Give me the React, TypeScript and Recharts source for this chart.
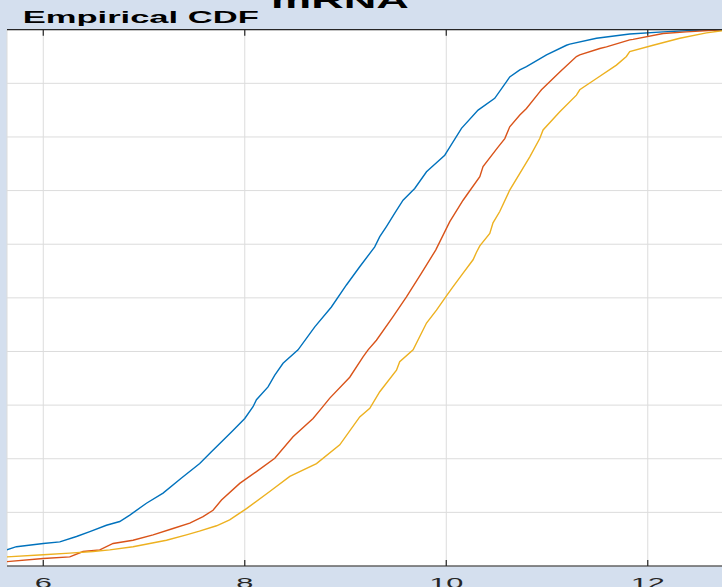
import { LineChart, Line, XAxis, YAxis, CartesianGrid } from "recharts";

// ECDF curves (x value, cumulative probability)
const BLUE_X = [5.635, 5.734, 6.0, 6.164, 6.33, 6.462, 6.627, 6.759, 6.859, 7.024, 7.189, 7.372, 7.553, 7.669, 7.868, 8.0, 8.082, 8.116, 8.231, 8.298, 8.38, 8.529, 8.695, 8.86, 9.009, 9.141, 9.29, 9.34, 9.406, 9.489, 9.571, 9.655, 9.687, 9.804, 9.82, 9.985, 10.018, 10.151, 10.316, 10.481, 10.598, 10.63, 10.73, 10.796, 10.995, 11.193, 11.226, 11.491, 11.821, 12.152, 12.483, 12.6, 13];
const BLUE_Y = [0.03, 0.036, 0.042, 0.045, 0.055, 0.064, 0.076, 0.083, 0.095, 0.117, 0.136, 0.164, 0.191, 0.213, 0.25, 0.275, 0.297, 0.31, 0.334, 0.356, 0.378, 0.403, 0.446, 0.483, 0.524, 0.558, 0.595, 0.614, 0.633, 0.658, 0.682, 0.698, 0.704, 0.735, 0.738, 0.766, 0.776, 0.816, 0.85, 0.872, 0.903, 0.912, 0.925, 0.931, 0.953, 0.971, 0.973, 0.984, 0.992, 0.996, 0.999, 1, 1];

const ORANGE_X = [5.635, 6.0, 6.263, 6.395, 6.561, 6.693, 6.891, 7.09, 7.288, 7.454, 7.586, 7.685, 7.769, 7.95, 8.116, 8.298, 8.479, 8.678, 8.761, 8.844, 9.042, 9.174, 9.224, 9.307, 9.472, 9.605, 9.754, 9.895, 10.035, 10.167, 10.216, 10.333, 10.365, 10.51, 10.581, 10.63, 10.73, 10.796, 10.928, 10.945, 11.127, 11.292, 11.325, 11.524, 11.59, 11.821, 11.854, 12.152, 12.384, 12.648, 13];
const ORANGE_Y = [0.008, 0.014, 0.017, 0.027, 0.03, 0.042, 0.048, 0.058, 0.07, 0.08, 0.092, 0.104, 0.123, 0.154, 0.176, 0.201, 0.241, 0.275, 0.294, 0.313, 0.352, 0.39, 0.403, 0.421, 0.465, 0.502, 0.546, 0.589, 0.642, 0.682, 0.695, 0.726, 0.745, 0.78, 0.797, 0.819, 0.841, 0.853, 0.884, 0.888, 0.921, 0.95, 0.953, 0.965, 0.968, 0.981, 0.982, 0.993, 0.996, 0.999, 1];

const YELLOW_X = [5.635, 6.0, 6.263, 6.494, 6.66, 6.891, 7.057, 7.223, 7.421, 7.55, 7.72, 7.85, 7.92, 8.017, 8.248, 8.447, 8.712, 8.943, 9.141, 9.241, 9.34, 9.506, 9.538, 9.671, 9.737, 9.804, 9.903, 9.995, 10.068, 10.167, 10.266, 10.3, 10.333, 10.432, 10.464, 10.531, 10.63, 10.829, 10.928, 10.961, 11.127, 11.292, 11.325, 11.491, 11.689, 11.788, 11.821, 12.053, 12.318, 12.583, 12.734, 13];
const YELLOW_Y = [0.017, 0.021, 0.024, 0.027, 0.03, 0.036, 0.042, 0.048, 0.058, 0.065, 0.075, 0.086, 0.095, 0.107, 0.139, 0.167, 0.191, 0.226, 0.278, 0.294, 0.325, 0.365, 0.381, 0.403, 0.428, 0.453, 0.477, 0.502, 0.521, 0.546, 0.571, 0.585, 0.597, 0.62, 0.64, 0.661, 0.701, 0.763, 0.797, 0.813, 0.847, 0.878, 0.888, 0.909, 0.934, 0.95, 0.959, 0.971, 0.984, 0.994, 0.998, 1];

const X_TICKS = [6, 8, 10, 12];
const Y_TICKS = [0, 0.1, 0.2, 0.3, 0.4, 0.5, 0.6, 0.7, 0.8, 0.9, 1];
const X_DOMAIN: [number, number] = [5.64, 13];

const zip = (xs: number[], ys: number[]) => xs.map((x, i) => ({ x, y: ys[i] }));
const blue = zip(BLUE_X, BLUE_Y);
const orange = zip(ORANGE_X, ORANGE_Y);
const yellow = zip(YELLOW_X, YELLOW_Y);

const FONT = "'Liberation Sans', Arial, Helvetica, sans-serif";
const SX = 2.05; // text in the source looks stretched sideways
const AXIS = "#262626";

const BottomTick = ({ x, y, payload }: any) => (
  <g>
    <line x1={x} x2={x} y1={y - 6} y2={y} stroke={AXIS} strokeWidth={1.2} />
    <text transform={`translate(${x},${y + 22}) scale(${SX},1)`} textAnchor="middle"
      fontSize={15} fontFamily={FONT} fill={AXIS}>{payload.value}</text>
  </g>
);

const TopTick = ({ x, y }: any) => (
  <line x1={x} x2={x} y1={y} y2={y + 6} stroke={AXIS} strokeWidth={1.2} />
);

export default function App() {
  return (
    <div style={{ position: "absolute", left: 0, top: 0, width: 722, height: 587, overflow: "hidden", background: "#d4dfee" }}>
      <LineChart width={800} height={620} margin={{ top: 28.7, right: 51.5, bottom: 53, left: 7 }}>
        <CartesianGrid xAxisId="bottom" stroke="#dcdcdc" fill="#ffffff" />
        <XAxis xAxisId="bottom" type="number" dataKey="x" domain={X_DOMAIN} ticks={X_TICKS} allowDataOverflow
          height={1} tickSize={0} tickMargin={0} tickLine={false} axisLine={{ stroke: AXIS, strokeWidth: 1.2 }} tick={<BottomTick />} />
        <XAxis xAxisId="top" orientation="top" type="number" dataKey="x" domain={X_DOMAIN} ticks={X_TICKS} allowDataOverflow
          height={1} tickSize={0} tickMargin={0} tickLine={false} axisLine={{ stroke: AXIS, strokeWidth: 1.2 }} tick={<TopTick />} />
        <YAxis type="number" domain={[0, 1]} ticks={Y_TICKS} hide width={0} />
        <Line xAxisId="bottom" data={blue} dataKey="y" stroke="#0072bd" strokeWidth={1.4} dot={false} isAnimationActive={false} />
        <Line xAxisId="bottom" data={orange} dataKey="y" stroke="#d95319" strokeWidth={1.4} dot={false} isAnimationActive={false} />
        <Line xAxisId="bottom" data={yellow} dataKey="y" stroke="#edb120" strokeWidth={1.4} dot={false} isAnimationActive={false} />
      </LineChart>
      <svg width={722} height={587} style={{ position: "absolute", left: 0, top: 0, pointerEvents: "none" }}>
        <text transform={`translate(340,8) scale(${SX},1)`} textAnchor="middle" fontSize={22} fontWeight="bold" fontFamily={FONT} fill="#000">mRNA</text>
        <text transform={`translate(22.7,23.3) scale(2.12,1)`} fontSize={16.3} fontWeight="bold" fontFamily={FONT} fill="#000">Empirical CDF</text>
      </svg>
    </div>
  );
}
